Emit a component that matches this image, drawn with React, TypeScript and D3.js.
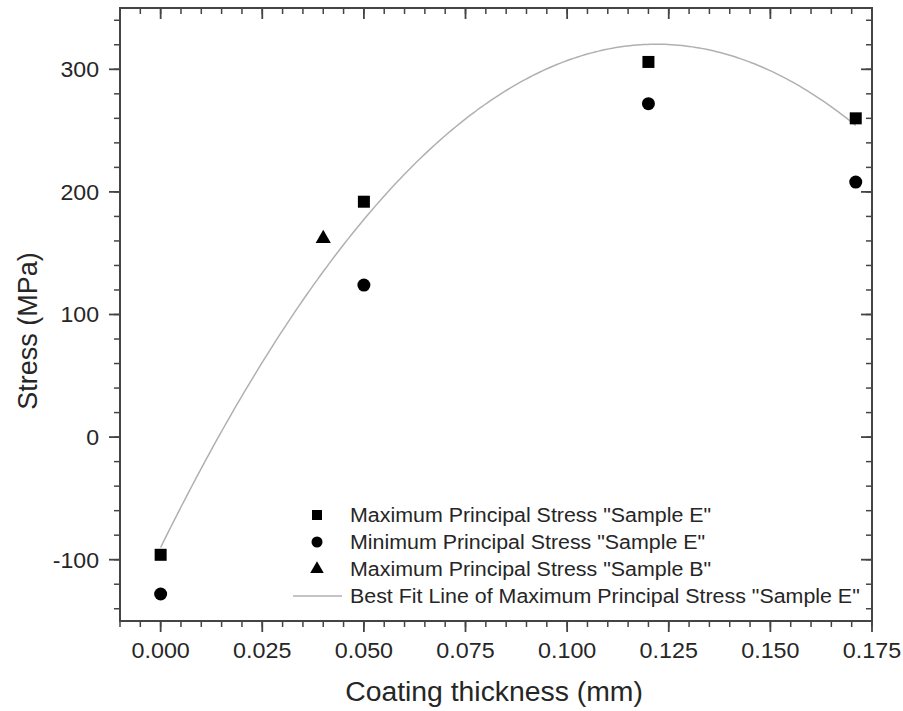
import React from "react";
import * as d3 from "d3";

const maxEX = [0, 0.05, 0.12, 0.171];
const maxEY = [-96, 192, 306, 260];
const minEX = [0, 0.05, 0.12, 0.171];
const minEY = [-128, 124, 272, 208];
const maxBX = [0.04];
const maxBY = [162];

const xMajor = [0, 0.025, 0.05, 0.075, 0.1, 0.125, 0.15, 0.175];
const xLabels = ["0.000", "0.025", "0.050", "0.075", "0.100", "0.125", "0.150", "0.175"];
const yMajor = [-100, 0, 100, 200, 300];
const yLabels = ["-100", "0", "100", "200", "300"];

const legendLabels = [
  'Maximum Principal Stress "Sample E"',
  'Minimum Principal Stress "Sample E"',
  'Maximum Principal Stress "Sample B"',
  'Best Fit Line of Maximum Principal Stress "Sample E"',
];

// least squares quadratic fit
function quadFit(xs: number[], ys: number[]) {
  const n = xs.length;
  let s0 = n, s1 = 0, s2 = 0, s3 = 0, s4 = 0, t0 = 0, t1 = 0, t2 = 0;
  for (let i = 0; i < n; i++) {
    const x = xs[i], y = ys[i];
    s1 += x; s2 += x * x; s3 += x * x * x; s4 += x * x * x * x;
    t0 += y; t1 += x * y; t2 += x * x * y;
  }
  const A = [[s0, s1, s2, t0], [s1, s2, s3, t1], [s2, s3, s4, t2]];
  for (let c = 0; c < 3; c++) {
    for (let r = c + 1; r < 3; r++) {
      const f = A[r][c] / A[c][c];
      for (let k = c; k < 4; k++) A[r][k] -= f * A[c][k];
    }
  }
  const coef = [0, 0, 0];
  for (let r = 2; r >= 0; r--) {
    let s = A[r][3];
    for (let k = r + 1; k < 3; k++) s -= A[r][k] * coef[k];
    coef[r] = s / A[r][r];
  }
  return (x: number) => coef[0] + coef[1] * x + coef[2] * x * x;
}

export default function App() {
  const L = 120, R = 872, T = 8, B = 621;
  const x = d3.scaleLinear().domain([-0.01, 0.175]).range([L, R]);
  const y = d3.scaleLinear().domain([-150, 350]).range([B, T]);
  const fit = quadFit(maxEX, maxEY);
  const fitPts = d3.range(0, 201).map((i) => {
    const xv = (maxEX[3] * i) / 200;
    return [xv, fit(xv)] as [number, number];
  });
  const line = d3.line<[number, number]>().x((d) => x(d[0])).y((d) => y(d[1]));

  const xMinor = d3.range(-10, 176, 5).map((v) => v / 1000);
  const yMinor = d3.range(-140, 341, 20);
  const axisColor = "#444";
  const textColor = "#262626";
  const font = "Liberation Sans, Arial, sans-serif";
  const tri = d3.symbol().type(d3.symbolTriangle);

  const legX = 317, legTX = 350;
  const legY = [515, 542, 569, 596];

  return (
    <svg width={903} height={711} style={{ position: "absolute", left: 0, top: 0, background: "#fff" }} fontFamily={font}>
      <rect x={0} y={0} width={903} height={711} fill="#fff" />
      {/* fit line */}
      <path d={line(fitPts) || ""} fill="none" stroke="#b0b0b0" strokeWidth={1.5} />
      {/* minor ticks */}
      {xMinor.map((v, i) => (
        <g key={"xm" + i}>
          <line x1={x(v)} x2={x(v)} y1={B} y2={B + 6} stroke={axisColor} strokeWidth={1.5} />
          <line x1={x(v)} x2={x(v)} y1={T} y2={T + 6} stroke={axisColor} strokeWidth={1.5} />
        </g>
      ))}
      {yMinor.map((v, i) => (
        <g key={"ym" + i}>
          <line x1={L - 6} x2={L} y1={y(v)} y2={y(v)} stroke={axisColor} strokeWidth={1.5} />
          <line x1={R - 6} x2={R} y1={y(v)} y2={y(v)} stroke={axisColor} strokeWidth={1.5} />
        </g>
      ))}
      {xMajor.map((v, i) => (
        <g key={"xM" + i}>
          <line x1={x(v)} x2={x(v)} y1={B} y2={B + 11} stroke={axisColor} strokeWidth={1.8} />
          <line x1={x(v)} x2={x(v)} y1={T} y2={T + 11} stroke={axisColor} strokeWidth={1.8} />
          <g transform={`translate(${x(v)},658) scale(1.06,1)`}>
            <text x={0} y={0} textAnchor="middle" fontSize={22} fill={textColor}>{xLabels[i]}</text>
          </g>
        </g>
      ))}
      {yMajor.map((v, i) => (
        <g key={"yM" + i}>
          <line x1={L - 11} x2={L} y1={y(v)} y2={y(v)} stroke={axisColor} strokeWidth={1.8} />
          <line x1={R - 11} x2={R} y1={y(v)} y2={y(v)} stroke={axisColor} strokeWidth={1.8} />
          <g transform={`translate(99,${y(v)}) scale(1.05,1)`}>
            <text x={0} y={0} dy="0.36em" textAnchor="end" fontSize={22} fill={textColor}>{yLabels[i]}</text>
          </g>
        </g>
      ))}
      <rect x={L} y={T} width={R - L} height={B - T} fill="none" stroke={axisColor} strokeWidth={2} />
      {/* data */}
      {maxEX.map((v, i) => (
        <rect key={"s" + i} x={x(v) - 6} y={y(maxEY[i]) - 6} width={12} height={12} fill="#000" />
      ))}
      {minEX.map((v, i) => (
        <circle key={"c" + i} cx={x(v)} cy={y(minEY[i])} r={6.5} fill="#000" />
      ))}
      {maxBX.map((v, i) => (
        <path key={"t" + i} d={tri.size(100)() || ""} transform={`translate(${x(v)},${y(maxBY[i])})`} fill="#000" />
      ))}
      {/* legend */}
      <rect x={legX - 5} y={legY[0] - 5} width={10} height={10} fill="#000" />
      <circle cx={legX} cy={legY[1]} r={5.5} fill="#000" />
      <path d={tri.size(80)() || ""} transform={`translate(${legX},${legY[2]})`} fill="#000" />
      <line x1={293} x2={342} y1={legY[3]} y2={legY[3]} stroke="#b0b0b0" strokeWidth={1.5} />
      {legendLabels.map((t, i) => (
        <g key={"l" + i} transform={`translate(${legTX},${legY[i]}) scale(1.07,1)`}>
          <text x={0} y={0} dy="0.36em" fontSize={20} fill={textColor}>{t}</text>
        </g>
      ))}
      {/* axis titles */}
      <g transform={`translate(494,701) scale(1.05,1)`}>
        <text x={0} y={0} textAnchor="middle" fontSize={27} fill={textColor}>Coating thickness (mm)</text>
      </g>
      <text transform={`translate(37,331) rotate(-90)`} textAnchor="middle" fontSize={27} fill={textColor}>Stress (MPa)</text>
    </svg>
  );
}
